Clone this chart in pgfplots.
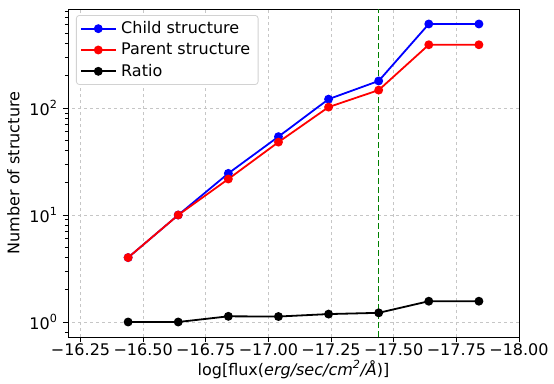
\documentclass[border=0pt]{standalone}
\usepackage{fontspec}
\setmainfont{DejaVu Sans}
\usepackage{pgfplots}
\pgfplotsset{compat=1.18}
\definecolor{mplgreen}{rgb}{0,0.5,0}
\begin{document}
\fontsize{16}{19}\selectfont
\begin{tikzpicture}
\begin{axis}[
  scale only axis, width=451pt, height=328pt,
  x dir=reverse, xmin=-18, xmax=-16.2,
  ymode=log, ymin=0.724, ymax=842,
  xtick={-16.25,-16.5,-16.75,-17,-17.25,-17.5,-17.75,-18},
  xticklabels={−16.25,−16.50,−16.75,−17.00,−17.25,−17.50,−17.75,−18.00},
  ytick={1,10,100},
  yticklabels={10\textsuperscript{0},10\textsuperscript{1},10\textsuperscript{2}},
  minor ytick={0.8,2,3,4,5,6,7,8,9,20,30,40,50,60,70,80,90,200,300,400,500,600,700,800},
  tick align=outside, tick pos=left,
  major tick length=5pt, minor tick length=3pt,
  tick style={black, line width=0.8pt},
  axis line style={line width=0.9pt},
  grid=major,
  major grid style={gray!45, dashed, line width=0.8pt},
  tick label style={font=\fontsize{16}{19}\selectfont},
  xticklabel style={inner ysep=1.5pt},
  xlabel={log[flux(\textit{erg/sec/cm\textsuperscript{2}/Å})]},
  ylabel={Number of structure},
  label style={font=\fontsize{16}{19}\selectfont},
  xlabel style={at={(axis description cs:0.5,0)}, anchor=base, inner sep=0pt, yshift=-38pt},
  ylabel style={yshift=-1pt},
  legend style={at={(0,1)}, anchor=north west, xshift=8pt, yshift=-6pt,
    draw=gray!35, rounded corners=3pt, line width=0.8pt,
    font=\fontsize{16}{19}\selectfont, row sep=3pt, inner xsep=4pt, inner ysep=4pt,
    cells={anchor=west}, nodes={inner xsep=4pt}},
  legend image code/.code={\draw[mark repeat=2,mark phase=2] plot coordinates {(0pt,0pt) (17pt,0pt) (35pt,0pt)};},
]
\addplot[blue, line width=1.8pt, mark=*, mark size=3.5pt] coordinates {
(-16.44,4) (-16.64,10) (-16.84,24.5) (-17.04,54) (-17.24,121) (-17.44,179) (-17.64,610) (-17.84,610)};
\addlegendentry{Child structure}
\addplot[red, line width=1.8pt, mark=*, mark size=3.5pt] coordinates {
(-16.44,4) (-16.64,10) (-16.84,21.7) (-17.04,48) (-17.24,102) (-17.44,147) (-17.64,390) (-17.84,390)};
\addlegendentry{Parent structure}
\addplot[black, line width=1.8pt, mark=*, mark size=3.5pt] coordinates {
(-16.44,1) (-16.64,1) (-16.84,1.13) (-17.04,1.125) (-17.24,1.186) (-17.44,1.218) (-17.64,1.564) (-17.84,1.564)};
\addlegendentry{Ratio}
\addplot[mplgreen, line width=1.6pt, dash pattern=on 6pt off 3pt, forget plot] coordinates {(-17.44,0.724) (-17.44,842)};
\end{axis}
\pgfresetboundingbox
\path ([xshift=-68pt,yshift=-46pt]current axis.south west) rectangle ([xshift=35pt,yshift=9pt]current axis.north east);
\end{tikzpicture}
\end{document}
